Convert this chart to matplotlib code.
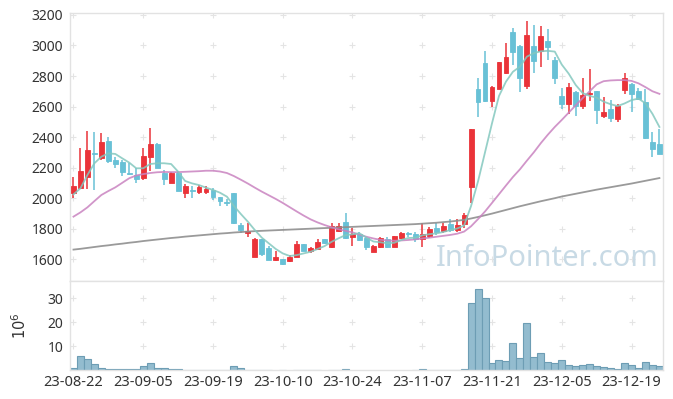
import numpy as np
import matplotlib
matplotlib.use('Agg')
import matplotlib.pyplot as plt

plt.rcParams['font.family'] = ['Noto Sans', 'DejaVu Sans']

# x tick labels every 10 trading days
tick_idx = [0, 10, 20, 30, 40, 50, 60, 70, 80]
tick_labels = ['23-08-22', '23-09-05', '23-09-19', '23-10-10', '23-10-24',
               '23-11-07', '23-11-21', '23-12-05', '23-12-19']

opens = [2031, 2068, 2140, 2292, 2260, 2374, 2249, 2236, 2164, 2149,
         2133, 2271, 2356, 2166, 2100, 2162, 2035, 2050, 2041, 2041,
         2053, 2005, 1976, 2031, 1823, 1769, 1615, 1731, 1674, 1594,
         1600, 1587, 1615, 1696, 1653, 1666, 1731, 1681, 1784, 1845,
         1746, 1762, 1736, 1648, 1681, 1731, 1681, 1740, 1771, 1764,
         1729, 1753, 1805, 1784, 1828, 1790, 1830, 2070, 2715, 2887,
         2638, 2715, 2818, 3087, 2997, 2734, 2997, 2966, 3030, 2905,
         2669, 2616, 2697, 2605, 2684, 2702, 2538, 2584, 2518, 2708,
         2748, 2702, 2632, 2369, 2354]
highs = [2136, 2330, 2439, 2436, 2424, 2398, 2271, 2249, 2228, 2195,
         2330, 2457, 2358, 2184, 2170, 2170, 2090, 2079, 2085, 2081,
         2064, 2009, 1994, 2033, 1838, 1834, 1740, 1733, 1683, 1655,
         1602, 1626, 1718, 1698, 1681, 1731, 1733, 1834, 1838, 1900,
         1801, 1779, 1746, 1692, 1746, 1746, 1753, 1779, 1777, 1779,
         1838, 1812, 1834, 1834, 1862, 1862, 1904, 2455, 2785, 2964,
         2734, 2895, 3018, 3113, 3000, 3163, 3134, 3128, 3108, 2927,
         2719, 2752, 2699, 2785, 2844, 2704, 2664, 2643, 2616, 2818,
         2752, 2719, 2713, 2435, 2450]
lows = [1998, 2064, 2057, 2055, 2249, 2232, 2195, 2144, 2150, 2096,
        2118, 2179, 2197, 2083, 2097, 2045, 1998, 1998, 2024, 2024,
        1987, 1948, 1948, 1830, 1773, 1742, 1612, 1623, 1592, 1590,
        1560, 1582, 1613, 1653, 1637, 1659, 1700, 1670, 1779, 1734,
        1687, 1718, 1659, 1645, 1670, 1670, 1679, 1731, 1746, 1713,
        1681, 1740, 1757, 1769, 1779, 1775, 1801, 1965, 2529, 2632,
        2595, 2713, 2816, 2872, 2697, 2713, 2822, 2857, 2905, 2748,
        2582, 2551, 2538, 2582, 2638, 2483, 2523, 2500, 2500, 2682,
        2562, 2643, 2385, 2267, 2287]
closes = [2079, 2177, 2315, 2287, 2365, 2243, 2223, 2173, 2156, 2123,
          2275, 2356, 2199, 2123, 2166, 2048, 2079, 2046, 2070, 2059,
          2009, 1982, 1965, 1834, 1790, 1786, 1731, 1633, 1594, 1615,
          1567, 1615, 1696, 1655, 1670, 1713, 1703, 1816, 1816, 1736,
          1762, 1725, 1677, 1685, 1736, 1677, 1751, 1769, 1767, 1731,
          1762, 1797, 1779, 1816, 1790, 1823, 1889, 2452, 2632, 2638,
          2726, 2890, 2923, 2959, 2785, 3069, 2900, 3062, 2988, 2785,
          2616, 2726, 2603, 2675, 2690, 2577, 2564, 2527, 2603, 2785,
          2682, 2649, 2392, 2319, 2289]

ma5 = [2024, 2064, 2151, 2228, 2271, 2293, 2289, 2260, 2232, 2195,
       2195, 2223, 2228, 2228, 2223, 2173, 2112, 2096, 2085, 2068,
       2053, 2035, 2009, 1948, 1895, 1845, 1790, 1740, 1703, 1666,
       1637, 1620, 1626, 1637, 1648, 1666, 1685, 1713, 1736, 1757,
       1762, 1769, 1740, 1715, 1710, 1703, 1707, 1725, 1738, 1740,
       1755, 1763, 1768, 1777, 1790, 1800, 1820, 1948, 2110, 2300,
       2490, 2669, 2763, 2828, 2861, 2927, 2950, 2962, 2965, 2960,
       2875, 2815, 2741, 2688, 2670, 2658, 2632, 2615, 2603, 2620,
       2642, 2652, 2621, 2552, 2466]
ma20 = [1878, 1906, 1939, 1980, 2020, 2046, 2070, 2100, 2130, 2148,
        2157, 2164, 2169, 2171, 2170, 2170, 2172, 2174, 2176, 2179,
        2179, 2174, 2164, 2144, 2120, 2095, 2068, 2042, 2018, 1994,
        1968, 1940, 1912, 1885, 1860, 1840, 1823, 1808, 1795, 1785,
        1775, 1760, 1746, 1735, 1726, 1722, 1720, 1722, 1725, 1729,
        1735, 1740, 1746, 1752, 1758, 1766, 1780, 1815, 1862, 1912,
        1968, 2025, 2082, 2138, 2188, 2245, 2300, 2360, 2415, 2466,
        2512, 2560, 2608, 2655, 2700, 2745, 2766, 2771, 2773, 2773,
        2768, 2752, 2727, 2700, 2683]
ma60 = [1662, 1667, 1673, 1679, 1685, 1690, 1696, 1701, 1707, 1712,
        1718, 1723, 1728, 1733, 1738, 1742, 1747, 1751, 1755, 1759,
        1763, 1767, 1770, 1774, 1777, 1780, 1783, 1785, 1787, 1789,
        1791, 1793, 1795, 1797, 1799, 1801, 1803, 1805, 1807, 1809,
        1811, 1813, 1815, 1817, 1819, 1821, 1823, 1825, 1827, 1829,
        1832, 1835, 1838, 1842, 1846, 1851, 1857, 1866, 1876, 1887,
        1898, 1910, 1922, 1934, 1946, 1957, 1968, 1979, 1989, 1999,
        2010, 2019, 2028, 2037, 2046, 2055, 2063, 2071, 2079, 2087,
        2095, 2104, 2113, 2122, 2131]

# volume, unit 10^6
volume = [0.9, 6.0, 4.7, 2.6, 0.9, 0.5, 0.5, 0.5, 0.5, 0.3,
          1.5, 3.0, 0.9, 0.9, 0.5, 0.5, 0.2, 0.2, 0.2, 0.2,
          0.2, 0.2, 0.2, 1.5, 0.9, 0.2, 0.2, 0.2, 0.2, 0.0,
          0.2, 0.0, 0.2, 0.2, 0.2, 0.2, 0.0, 0.2, 0.2, 0.6,
          0.0, 0.0, 0.0, 0.0, 0.0, 0.0, 0.0, 0.0, 0.0, 0.2,
          0.5, 0.2, 0.2, 0.2, 0.2, 0.2, 0.4, 27.8, 33.7, 30.3,
          3.0, 4.3, 3.9, 11.4, 5.1, 19.8, 5.5, 7.2, 3.4, 3.0,
          4.3, 2.2, 1.8, 2.2, 2.6, 1.8, 1.3, 0.9, 0.5, 3.0,
          2.2, 0.9, 3.4, 2.2, 1.8]

price_ticks = [1600, 1800, 2000, 2200, 2400, 2600, 2800, 3000, 3200]
vol_ticks = [10, 20, 30]

UP = '#ea3339'
DOWN = '#68c1d6'
SPINE = '#e2e2e2'

o = np.array(opens); h = np.array(highs); l = np.array(lows); c = np.array(closes)
x = np.arange(len(o))
cols = np.where(c >= o, UP, DOWN)

fig = plt.figure(figsize=(6.73, 3.99), dpi=100)
ax = fig.add_axes([0.104, 0.2957, 0.881, 0.6717])
axv = fig.add_axes([0.104, 0.0727, 0.881, 0.223], sharex=ax)

# faint grid crosses
gx, gy = np.meshgrid(tick_idx, price_ticks)
ax.plot(gx.ravel(), gy.ravel(), '+', color='#e4e4e4', ms=5, mew=0.8, zorder=0)
gx, gy = np.meshgrid(tick_idx, vol_ticks)
axv.plot(gx.ravel(), gy.ravel(), '+', color='#e4e4e4', ms=5, mew=0.8, zorder=0)

ax.text(0.805, 0.085, 'InfoPointer.com', transform=ax.transAxes, ha='center', va='center',
        fontsize=21, color='#c8dae5', zorder=1)

# candles
ax.vlines(x, l, h, colors=cols, lw=1.1, zorder=2)
ax.bar(x, np.abs(c - o), bottom=np.minimum(o, c), width=0.7, color=cols,
       edgecolor=cols, lw=0.6, zorder=3)

# moving averages
ax.plot(x, ma60, color='#8f8f8f', lw=1.3, alpha=0.9, zorder=4)
ax.plot(x, ma20, color='#c983c0', lw=1.3, alpha=0.85, zorder=4)
ax.plot(x, ma5, color='#84c8bf', lw=1.3, alpha=0.85, zorder=4)

ax.set_xlim(-0.5, len(o) - 0.5)
ax.set_ylim(1456, 3213)
ax.set_yticks(price_ticks)

# volume
v = np.array(volume)
m = v > 0
axv.bar(x[m], v[m], width=1.0, color='#93bccf', edgecolor='#6d9db4', lw=0.8, zorder=2)
axv.set_ylim(0, 37.2)
axv.set_yticks(vol_ticks)
axv.set_xticks(tick_idx)
axv.set_xticklabels(tick_labels)
axv.set_ylabel(r'$10^6$', fontsize=10.5, color='#333333')
axv.yaxis.set_label_coords(-0.068, 0.5)

for a in (ax, axv):
    for s in a.spines.values():
        s.set_color(SPINE)
        s.set_linewidth(1.0)
    a.tick_params(length=0, labelsize=10, labelcolor='#333333', pad=5)
plt.setp(ax.get_xticklabels(), visible=False)
axv.tick_params(axis='x', pad=3.5, labelsize=10.5)

fig.savefig('out.png', dpi=100)
